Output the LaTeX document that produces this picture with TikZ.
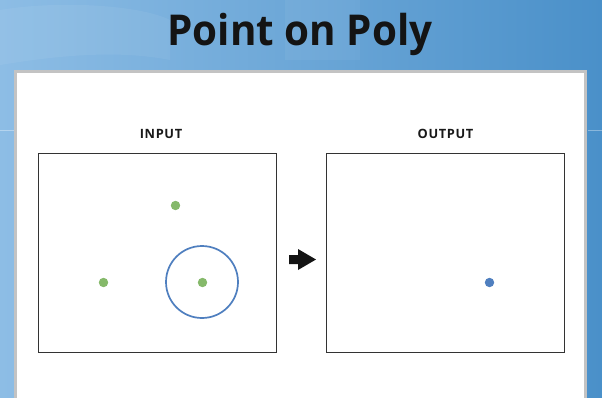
\documentclass[tikz,border=0pt]{standalone}
\usepackage{fontspec}
\setmainfont{Open Sans}
\newfontfamily\titlefont{Open Sans}[FakeStretch=0.95]
\newfontfamily\labelfont{Open Sans}[LetterSpace=5]
\definecolor{bgleft}{HTML}{8DBDE5}
\definecolor{bgright}{HTML}{4A90C9}
\definecolor{framegray}{HTML}{C3C3C3}
\definecolor{boxline}{HTML}{333333}
\definecolor{ptgreen}{HTML}{85B96A}
\definecolor{ptblue}{HTML}{4F7FBF}
\begin{document}
\begin{tikzpicture}[x=1pt,y=-1pt,
  panelbox/.style={draw=boxline,line width=1.1pt,minimum width=238pt,minimum height=199pt,inner sep=0pt,anchor=north west},
  headlabel/.style={font=\labelfont\bfseries\fontsize{12.8}{14}\selectfont,text=black!90,inner sep=0pt},
  greenpt/.style={circle,fill=ptgreen,minimum size=9.4pt,inner sep=0pt},
  bluept/.style={circle,fill=ptblue,minimum size=9.4pt,inner sep=0pt},
  ring/.style={circle,draw=ptblue,line width=1.7pt,minimum size=72pt,inner sep=0pt},
  flowarrow/.style={fill=black!92}]
\useasboundingbox (0,0) rectangle (602,397);
% background
\shade[left color=bgleft,right color=bgright] (0,0) rectangle (602,397);
\fill[white,opacity=0.06] (0,10) .. controls (60,0) and (140,5) .. (170,20) -- (170,60) .. controls (120,50) and (60,55) .. (0,65) -- cycle;
\fill[white,opacity=0.05] (285,0) rectangle (360,60);
\draw[white,opacity=0.35,line width=0.6pt] (0,130) -- (14,130);
\draw[white,opacity=0.35,line width=0.6pt] (588,130) -- (602,130);
% title
\node[font=\titlefont\bfseries\fontsize{42.5}{44}\selectfont,text=black!92,anchor=base] (title) at (300,45.5) {Point on Poly};
% white panel
\draw[framegray,fill=white,line width=3.5pt] (15.5,71.5) -- (585.5,71.5) -- (585.5,400) -- (15.5,400) -- cycle;
% boxes
\node[panelbox] (inbox) at (38,153) {};
\node[panelbox] (outbox) at (325.5,153) {};
\node[headlabel] (inlabel) at (161,134) {INPUT};
\node[headlabel] (outlabel) at (445.5,134) {OUTPUT};
% points
\node[greenpt] (p1) at (175.5,205.5) {};
\node[greenpt] (p2) at (103.5,282.5) {};
\node[greenpt] (p3) at (202.5,282.5) {};
\node[ring] (poly) at (202,282) {};
\node[bluept] (res) at (489.5,282.5) {};
% arrow
\fill[flowarrow] (289,255) -- (298,255) -- (298,249) -- (316,259.5) -- (298,270) -- (298,264) -- (289,264) -- cycle;
\end{tikzpicture}
\end{document}
